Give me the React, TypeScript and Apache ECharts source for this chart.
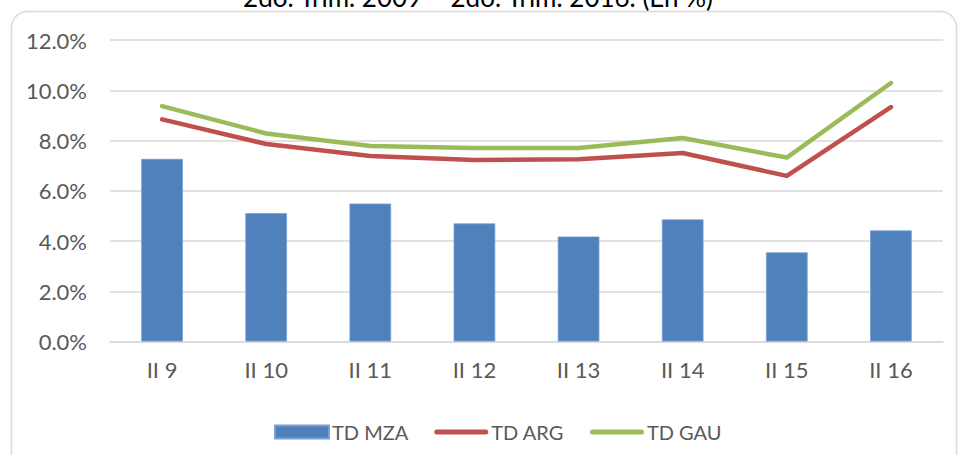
import React, { useEffect, useRef } from "react";
import * as echarts from "echarts";

const titleText = "2do. Trim. 2009 – 2do. Trim. 2016. (En %)";
const categories = ["II 9", "II 10", "II 11", "II 12", "II 13", "II 14", "II 15", "II 16"];
const tdMza = [7.27, 5.11, 5.49, 4.7, 4.18, 4.86, 3.55, 4.42];
const tdArg = [8.84, 7.86, 7.38, 7.22, 7.25, 7.5, 6.59, 9.33];
const tdGau = [9.37, 8.28, 7.78, 7.7, 7.7, 8.1, 7.32, 10.29];
const seriesNames = ["TD MZA", "TD ARG", "TD GAU"];

const FONT = "Lato";
const TEXT = "#595959";
const GRID = "#d9d9d9";
const LINE_ICON =
  "path://M2.5,0 L51.5,0 A2.5,2.5 0 0 1 51.5,5 L2.5,5 A2.5,2.5 0 0 1 2.5,0 Z";

export default function App() {
  const ref = useRef<HTMLDivElement>(null);
  useEffect(() => {
    if (!ref.current) return;
    const chart = echarts.init(ref.current, null, { renderer: "svg" });
    chart.setOption({
      animation: false,
      backgroundColor: "#ffffff",
      textStyle: { fontFamily: FONT },
      graphic: [
        {
          type: "rect",
          shape: { x: 11.5, y: 11.5, width: 945, height: 460, r: 16 },
          style: { fill: "none", stroke: GRID, lineWidth: 1.5 },
          silent: true,
        },
        {
          type: "text",
          x: 478,
          y: 10,
          style: {
            text: titleText,
            fill: "#000000",
            font: `26px ${FONT}`,
            textAlign: "center",
            textVerticalAlign: "bottom",
          },
        },
      ],
      grid: { left: 110, right: 15, top: 40, bottom: 113.5 },
      legend: {
        left: 269,
        top: 417,
        itemWidth: 54,
        itemHeight: 13,
        itemGap: 26,
        symbolKeepAspect: true,
        textStyle: { color: TEXT, fontSize: 20, fontFamily: FONT, padding: [0, 0, 0, -2] },
        data: [
          { name: seriesNames[0], icon: "rect" },
          { name: seriesNames[1], icon: LINE_ICON, itemStyle: { color: "#c0504d" } },
          { name: seriesNames[2], icon: LINE_ICON, itemStyle: { color: "#9bbb59" } },
        ],
      },
      xAxis: {
        type: "category",
        data: categories,
        axisLine: { lineStyle: { color: GRID, width: 1.5 } },
        axisTick: { show: false },
        axisLabel: { color: TEXT, fontSize: 22, fontFamily: FONT, margin: 17 },
      },
      yAxis: {
        type: "value",
        min: 0,
        max: 12,
        interval: 2,
        axisLine: { show: false },
        axisTick: { show: false },
        splitLine: { lineStyle: { color: GRID, width: 1.5 } },
        axisLabel: {
          color: TEXT,
          fontSize: 22,
          fontFamily: FONT,
          margin: 23,
          formatter: (v: number) => `${v.toFixed(1)}%`,
        },
      },
      series: [
        {
          name: seriesNames[0],
          type: "bar",
          data: tdMza,
          barWidth: "40%",
          itemStyle: { color: "#4f81bd", borderColor: "#7a9fd0", borderWidth: 0.8 },
        },
        {
          name: seriesNames[1],
          type: "line",
          data: tdArg,
          symbol: "none",
          showSymbol: false,
          itemStyle: { color: "#c0504d" },
          lineStyle: { color: "#c0504d", width: 4.5, cap: "round", join: "round" },
        },
        {
          name: seriesNames[2],
          type: "line",
          data: tdGau,
          symbol: "none",
          showSymbol: false,
          itemStyle: { color: "#9bbb59" },
          lineStyle: { color: "#9bbb59", width: 4.5, cap: "round", join: "round" },
        },
      ],
    });
    return () => chart.dispose();
  }, []);
  return (
    <div
      ref={ref}
      style={{ position: "absolute", left: 0, top: 0, width: 958, height: 455 }}
    />
  );
}
